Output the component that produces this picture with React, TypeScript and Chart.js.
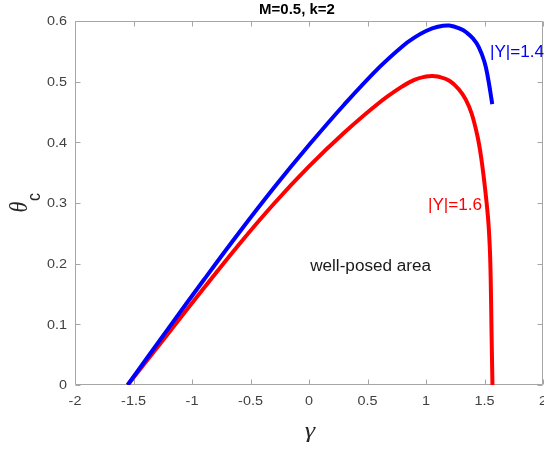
import { useEffect, useRef } from "react";
import { Chart, registerables } from "chart.js";

Chart.register(...registerables);

// |Y| = 1.4 curve (blue)
const blueGamma = [-1.55, -1.2, -0.9, -0.6, -0.3, 0.0, 0.3, 0.6, 0.8, 0.9, 1.0, 1.1, 1.2, 1.3, 1.35, 1.4, 1.45, 1.5, 1.53, 1.55, 1.566];
const blueTheta = [0.0, 0.0938, 0.173, 0.2505, 0.325, 0.3955, 0.462, 0.5235, 0.5585, 0.5725, 0.5835, 0.5905, 0.5925, 0.5865, 0.5805, 0.5715, 0.5575, 0.5325, 0.506, 0.483, 0.463];

// |Y| = 1.6 curve (red)
const redGamma = [-1.55, -1.2, -0.9, -0.6, -0.3, 0.0, 0.3, 0.6, 0.8, 0.9, 1.0, 1.05, 1.1, 1.2, 1.28, 1.34, 1.39, 1.44, 1.47, 1.5, 1.53, 1.545, 1.553, 1.56, 1.568];
const redTheta = [0.0, 0.0858, 0.1593, 0.2313, 0.2988, 0.3603, 0.4158, 0.4653, 0.4925, 0.503, 0.5085, 0.5095, 0.5085, 0.5015, 0.4875, 0.4705, 0.4475, 0.41, 0.377, 0.332, 0.276, 0.228, 0.175, 0.09, 0.0];

const xTicks = [-2, -1.5, -1, -0.5, 0, 0.5, 1, 1.5, 2];
const xTickLabels = ["-2", "-1.5", "-1", "-0.5", "0", "0.5", "1", "1.5", "2"];
const yTicks = [0, 0.1, 0.2, 0.3, 0.4, 0.5, 0.6];
const yTickLabels = ["0", "0.1", "0.2", "0.3", "0.4", "0.5", "0.6"];

const titleText = "M=0.5, k=2";
const xLabel = "γ";
const yLabelMain = "θ";
const yLabelSub = "c";

const noteTexts = ["well-posed area", "|Y|=1.6", "|Y|=1.4"];
const noteGamma = [0.01, 1.017, 1.547];
const noteTheta = [0.195, 0.295, 0.548];

const toPoints = (xs: number[], ys: number[]) => xs.map((x, i) => ({ x, y: ys[i] }));

function stretchedText(ctx: CanvasRenderingContext2D, t: string, x: number, y: number, sx: number) {
  ctx.save();
  ctx.translate(x, y);
  ctx.scale(sx, 1);
  ctx.fillText(t, 0, 0);
  ctx.restore();
}

export default function App() {
  const ref = useRef<HTMLCanvasElement | null>(null);

  useEffect(() => {
    document.body.style.margin = "0";
    const canvas = ref.current;
    if (!canvas) return;

    const framePlugin = {
      id: "frame",
      beforeDatasetsDraw(chart: any) {
        const { ctx, chartArea } = chart;
        const { left, right, top, bottom } = chartArea;
        const xs = chart.scales.x;
        const ys = chart.scales.y;
        ctx.save();
        ctx.strokeStyle = "#a6a6a6";
        ctx.lineWidth = 1;
        const L = Math.round(left) + 0.5;
        const R = Math.round(right) - 0.5;
        const T = Math.round(top) + 0.5;
        const B = Math.round(bottom) - 0.5;
        ctx.beginPath();
        ctx.moveTo(L, T);
        ctx.lineTo(R, T);
        ctx.lineTo(R, B);
        ctx.lineTo(L, B);
        ctx.closePath();
        ctx.stroke();
        const tl = 5;
        ctx.beginPath();
        xTicks.forEach((v) => {
          const px = Math.round(xs.getPixelForValue(v)) + 0.5;
          ctx.moveTo(px, B);
          ctx.lineTo(px, B - tl);
          ctx.moveTo(px, T);
          ctx.lineTo(px, T + tl);
        });
        yTicks.forEach((v) => {
          const py = Math.round(ys.getPixelForValue(v)) + 0.5;
          ctx.moveTo(L, py);
          ctx.lineTo(L + tl, py);
          ctx.moveTo(R, py);
          ctx.lineTo(R - tl, py);
        });
        ctx.stroke();

        ctx.fillStyle = "#404040";
        ctx.font = "12px 'Liberation Sans', Arial, sans-serif";
        ctx.textAlign = "center";
        ctx.textBaseline = "middle";
        xTicks.forEach((v, i) => {
          stretchedText(ctx, xTickLabels[i], xs.getPixelForValue(v), bottom + 17, 1.2);
        });
        ctx.textAlign = "right";
        yTicks.forEach((v, i) => {
          stretchedText(ctx, yTickLabels[i], left - 8, ys.getPixelForValue(v) + 1, 1.2);
        });
        ctx.restore();
      },
      afterDraw(chart: any) {
        const { ctx, chartArea } = chart;
        const { left, right, bottom } = chartArea;
        const xs = chart.scales.x;
        const ys = chart.scales.y;
        ctx.save();
        // title
        ctx.fillStyle = "#000000";
        ctx.font = "bold 14px 'Liberation Sans', Arial, sans-serif";
        ctx.textAlign = "center";
        ctx.textBaseline = "middle";
        stretchedText(ctx, titleText, (left + right) / 2 - 12, 10, 1.07);

        // x label
        ctx.fillStyle = "#262626";
        ctx.font = "italic 22px 'Liberation Serif', serif";
        stretchedText(ctx, xLabel, xs.getPixelForValue(0) + 1, bottom + 46, 1.2);

        // y label (rotated)
        ctx.save();
        ctx.translate(21, (chartArea.top + bottom) / 2 + 4);
        ctx.scale(1.1, 1);
        ctx.rotate(-Math.PI / 2);
        ctx.font = "italic 22px 'Liberation Serif', serif";
        ctx.textAlign = "center";
        ctx.fillText(yLabelMain, 0, 0);
        ctx.font = "16px 'Liberation Sans', Arial, sans-serif";
        ctx.fillText(yLabelSub, 10, 13);
        ctx.restore();

        // notes
        const colors = ["#1a1a1a", "#ff0000", "#0000ff"];
        ctx.font = "16px 'Liberation Sans', Arial, sans-serif";
        ctx.textAlign = "left";
        ctx.textBaseline = "middle";
        noteTexts.forEach((t, i) => {
          ctx.fillStyle = colors[i];
          stretchedText(ctx, t, xs.getPixelForValue(noteGamma[i]), ys.getPixelForValue(noteTheta[i]), 1.07);
        });
        ctx.restore();
      },
    };

    const chart = new Chart(canvas, {
      type: "scatter",
      data: {
        datasets: [
          {
            label: "|Y|=1.4",
            data: toPoints(blueGamma, blueTheta),
            showLine: true,
            borderColor: "#0000ff",
            backgroundColor: "#0000ff",
            borderWidth: 4,
            pointRadius: 0,
            tension: 0.4,
            fill: false,
          },
          {
            label: "|Y|=1.6",
            data: toPoints(redGamma, redTheta),
            showLine: true,
            borderColor: "#ff0000",
            backgroundColor: "#ff0000",
            borderWidth: 4,
            pointRadius: 0,
            tension: 0.4,
            fill: false,
          },
        ],
      },
      options: {
        animation: false,
        responsive: false,
        maintainAspectRatio: false,
        layout: { padding: { left: 75, top: 21, right: 1, bottom: 65 } },
        plugins: {
          legend: { display: false },
          tooltip: { enabled: false },
          title: { display: false },
        },
        scales: {
          x: { type: "linear", min: -2, max: 2, display: false },
          y: { type: "linear", min: 0, max: 0.6, display: false },
        },
      },
      plugins: [framePlugin],
    });

    return () => chart.destroy();
  }, []);

  return (
    <div style={{ position: "fixed", left: 0, top: 0, width: 544, height: 450, background: "#ffffff" }}>
      <canvas ref={ref} width={544} height={450} style={{ width: 544, height: 450, display: "block" }} />
    </div>
  );
}
